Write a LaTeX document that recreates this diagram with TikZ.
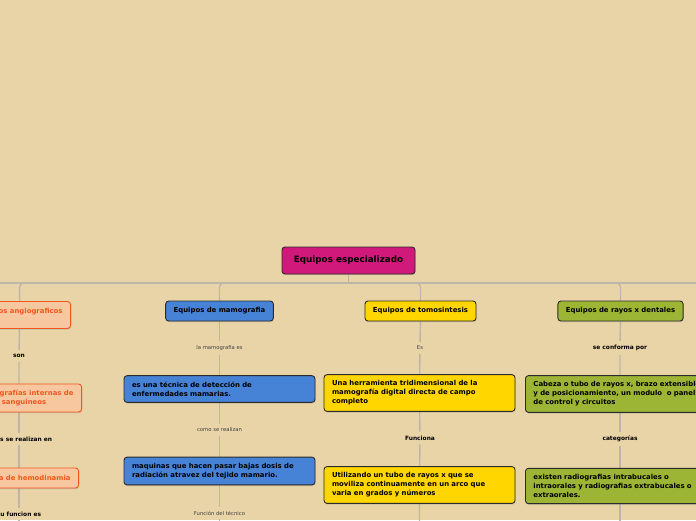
\documentclass[tikz,border=0pt]{standalone}
\usepackage{fontspec}
\setmainfont{DejaVu Sans}
\usetikzlibrary{positioning,shadows,backgrounds}

\definecolor{bgsand}{HTML}{E9D4A8}
\definecolor{rootpink}{HTML}{D0197A}
\definecolor{angiofill}{HTML}{F7C8A0}
\definecolor{angioline}{HTML}{F0561F}
\definecolor{mamoblue}{HTML}{4683D6}
\definecolor{tomoyellow}{HTML}{FFD600}
\definecolor{dentgreen}{HTML}{9CB534}
\definecolor{linkgray}{HTML}{BCB6AA}
\definecolor{edgedark}{HTML}{2B2B2B}

\tikzset{
  box/.style={draw=edgedark, line width=0.9pt, rounded corners=3pt,
    drop shadow={shadow xshift=0.5pt, shadow yshift=-1.2pt, opacity=0.3},
    font=\fontsize{6.9}{9}\selectfont\bfseries},
  topic/.style={box, inner xsep=8pt, minimum height=20pt},
  detail/.style={box, text width=175pt, align=left, inner xsep=8pt, inner ysep=6pt},
  angiobox/.style={draw=angioline, fill=angiofill, text=angioline},
  link/.style={draw=linkgray, line width=1.4pt},
  tag/.style={fill=bgsand, inner sep=4pt, font=\fontsize{5.9}{7}\selectfont\bfseries},
  tagsmall/.style={fill=bgsand, inner sep=4pt, text=black!75, font=\fontsize{5.3}{6}\selectfont},
}

\begin{document}
\begin{tikzpicture}[x=1pt, y=-1pt]
  \useasboundingbox (0,0) rectangle (696,520);

  % root and main branches
  \node[topic, fill=rootpink, minimum width=133pt, minimum height=27pt,
    font=\fontsize{8.8}{10}\selectfont\bfseries] (root) at (348.5,260.5) {Equipos especializado};
  \node[topic, angiobox, anchor=north east, align=center, minimum height=27pt] (angio) at (71,301) {Equipos angiograficos\\\mbox{}};
  \node[topic, fill=mamoblue] (mamo) at (219.5,311) {Equipos de mamografia};
  \node[topic, fill=tomoyellow] (tomo) at (420.5,311) {Equipos de tomosintesis};
  \node[topic, fill=dentgreen] (dent) at (620.5,311) {Equipos de rayos x dentales};

  % angiograficos
  \node[tag] (angioL1) at (19,356) {son};
  \node[topic, angiobox, anchor=east, align=left, inner ysep=6pt] (angio1) at (82,398) {Angiografías internas de\\vasos sanguineos};
  \node[tag] (angioL2) at (19,439) {estos se realizan en};
  \node[topic, angiobox, anchor=east] (angio2) at (79,478) {Sala de hemodinamia};
  \node[tag] (angioL3) at (19,514) {su funcion es};

  % mamografia
  \node[tagsmall] (mamoL1) at (219.5,348) {la mamografia es};
  \node[detail, fill=mamoblue] (mamo1) at (219.5,389) {es una técnica de detección de\\enfermedades mamarias.};
  \node[tagsmall] (mamoL2) at (219.5,430) {como se realizan};
  \node[detail, fill=mamoblue] (mamo2) at (219.5,471) {maquinas que hacen pasar bajas dosis de\\radiación atravez del tejido mamario.};
  \node[tagsmall] (mamoL3) at (219.5,513) {Función del técnico};

  % tomosintesis
  \node[tagsmall] (tomoL1) at (420,348) {Es};
  \node[detail, fill=tomoyellow] (tomo1) at (419.5,393) {Una herramienta tridimensional de la\\mamografía digital directa de campo\\completo};
  \node[tag] (tomoL2) at (420,438) {Funciona};
  \node[detail, fill=tomoyellow] (tomo2) at (419.5,485) {Utilizando un tubo de rayos x que se\\moviliza continuamente en un arco que\\varia en grados y números};

  % rayos x dentales
  \node[tag] (dentL1) at (620,348) {se conforma por};
  \node[detail, fill=dentgreen, text width=185pt, anchor=west] (dent1) at (525,394) {Cabeza o tubo de rayos x, brazo extensible\\y de posicionamiento, un modulo \ o panel\\de control y circuitos};
  \node[tag] (dentL2) at (620,439) {categorías};
  \node[detail, fill=dentgreen, text width=185pt, anchor=west] (dent2) at (525,486) {existen radiografias intrabucales o\\intraorales y radiografias extrabucales o\\extraorales.};

  \coordinate (bus) at (348.5,283);
  \coordinate (busW) at (-10,283);
  \coordinate (busE) at (706,283);
  \coordinate (bottom) at (0,530);

  \begin{scope}[on background layer]
    \fill[bgsand] (0,0) rectangle (696,520);
    \draw[link] (root) -- (bus);
    \draw[link] (busW) -- (busE);
    \foreach \n in {angio,mamo,tomo,dent}
      \draw[link, rounded corners=4pt] (bus) -| (\n.north);
    % column links
    \draw[link] (angio) -- (angioL1) -- (angioL1 |- angio1.north);
    \draw[link] (angioL1 |- angio1.south) -- (angioL2) -- (angioL2 |- angio2.north);
    \draw[link] (angioL2 |- angio2.south) -- (angioL3) -- (angioL3 |- bottom);
    \draw[link] (mamo) -- (mamoL1) -- (mamo1) -- (mamoL2) -- (mamo2) -- (mamoL3) -- (mamoL3 |- bottom);
    \draw[link] (tomo) -- (tomoL1) -- (tomo1) -- (tomoL2) -- (tomo2) -- (tomo2 |- bottom);
    \draw[link] (dent) -- (dentL1) -- (dentL1 |- dent1.north);
    \draw[link] (dentL1 |- dent1.south) -- (dentL2) -- (dentL2 |- dent2.north);
    \draw[link] (dentL2 |- dent2.south) -- (dentL2 |- bottom);
  \end{scope}
\end{tikzpicture}
\end{document}
